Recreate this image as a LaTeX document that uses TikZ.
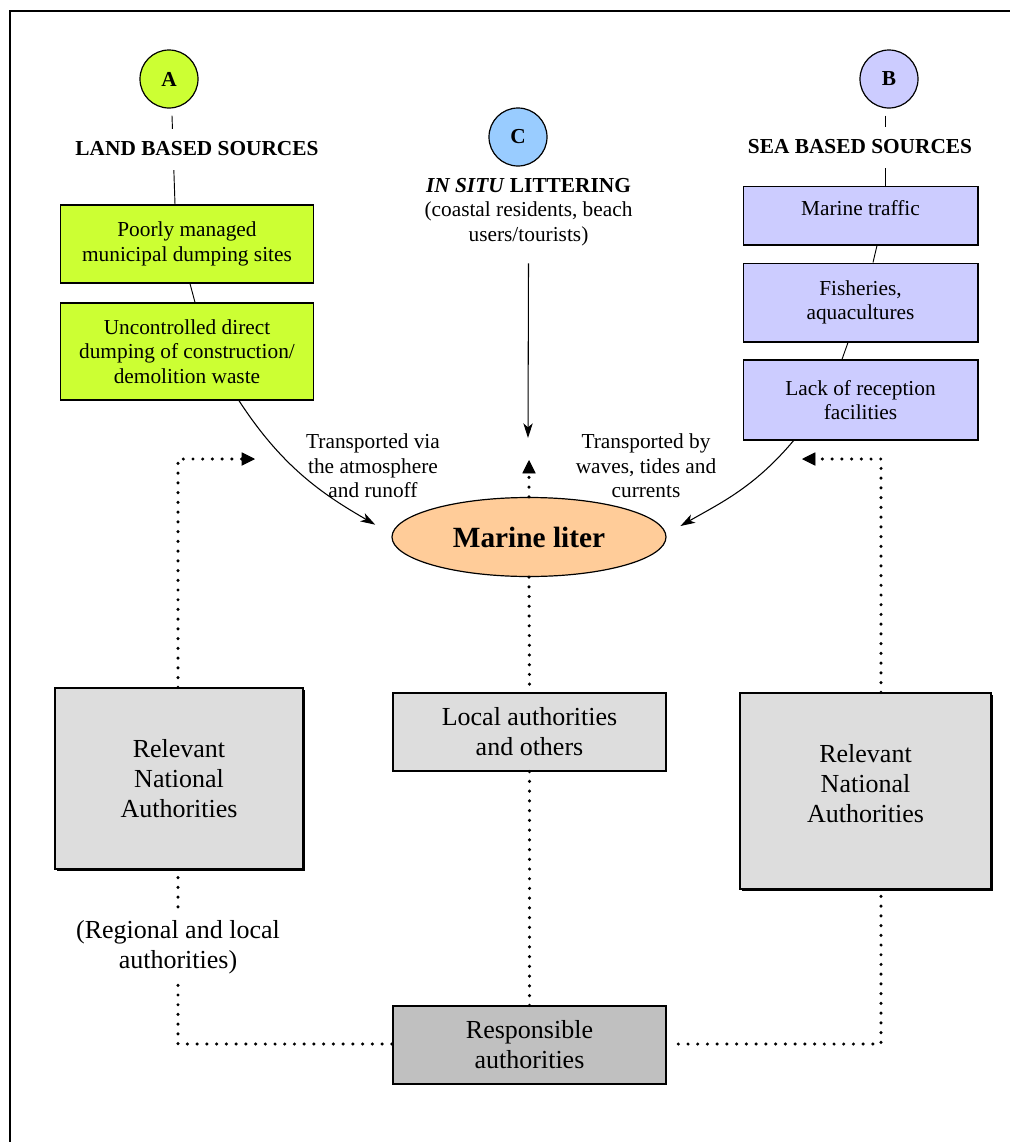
\documentclass[tikz,border=0pt]{standalone}
\usepackage{fontspec}
\setmainfont{Liberation Serif}
\usetikzlibrary{arrows.meta,calc,shapes.geometric,shadows}
\definecolor{lgreen}{RGB}{204,255,51}
\definecolor{lav}{RGB}{204,204,255}
\definecolor{lblue}{RGB}{153,204,255}
\definecolor{peach}{RGB}{255,204,153}
\definecolor{lgrey}{RGB}{221,221,221}
\definecolor{mgrey}{RGB}{192,192,192}
\begin{document}
\begin{tikzpicture}[x=0.75pt,y=-0.75pt,
  up/.style={font=\fontsize{16}{18.5}\selectfont, align=center},
  low/.style={font=\fontsize{19.5}{22.5}\selectfont, align=center},
  head/.style={font=\fontsize{16}{18.5}\selectfont\bfseries, align=center},
  letter/.style={circle, draw, line width=0.9pt, minimum size=43.5pt, inner sep=0pt, font=\fontsize{16}{18}\selectfont\bfseries},
  srcbox/.style={draw, line width=1pt, inner sep=0pt, up},
  authbox/.style={draw, line width=1pt, inner sep=0pt, low},
  nabox/.style={authbox, fill=lgrey, general shadow={fill=black, shadow xshift=1.2pt, shadow yshift=-1.5pt}},
  thin/.style={line width=0.7pt},
  sarrow/.style={line width=0.8pt, -{Stealth[length=11pt,width=7pt,inset=3pt]}},
  dots/.style={line width=2.6pt, line cap=round, dash pattern=on 0pt off 7.3pt},
  dotarr/.style={dots, -{Triangle[length=10pt,width=10pt,line width=0.5pt]}}
]
\useasboundingbox (0,0) rectangle (1010,1142);
% frame
\draw[line width=1.5pt] (10,1142) -- (10,11) -- (1010,11);

% --- A column
\node[letter, fill=lgreen] (A) at (169,79) {A};
\node[srcbox, fill=lgreen, minimum width=190pt, minimum height=58.5pt] (b1) at (187,244)
  {Poorly managed\\municipal dumping sites};
\node[srcbox, fill=lgreen, minimum width=190pt, minimum height=72.75pt] (b2) at (187,351.5)
  {Uncontrolled direct\\dumping of construction/\\demolition waste};
\draw[thin] ($(A.south)+(3,7)$) -- ($(b1.north)+(-12,0)$);
\node[head, fill=white, inner xsep=2pt, inner ysep=10pt] (land) at (197,149) {LAND BASED SOURCES};
\draw[thin] ($(b1.south)+(3,0)$) -- ($(b2.north)+(8,0)$);

% --- B column
\node[letter, fill=lav] (B) at (889,79) {B};
\node[srcbox, fill=lav, minimum width=176pt, minimum height=44pt] (mt) at (860.5,215.5) {};
\node[up] (mtt) at (860.5,208) {Marine traffic};
\node[srcbox, fill=lav, minimum width=176pt, minimum height=59pt] (fi) at (860.5,302.5)
  {Fisheries,\\aquacultures};
\node[srcbox, fill=lav, minimum width=176pt, minimum height=60pt] (la) at (860.5,400)
  {Lack of reception\\facilities};
\draw[thin] ($(B.south)+(-4,7)$) -- ($(mt.north)+(24.5,0)$);
\node[head, fill=white, inner xsep=2pt, inner ysep=10pt] (sea) at (860,147) {SEA BASED SOURCES};
\draw[thin] ($(mt.south)+(16.5,0)$) -- ($(fi.north)+(12.5,0)$);
\draw[thin] ($(fi.south)+(-12.5,0)$) -- ($(la.north)+(-18.5,0)$);

% --- C column
\node[letter, fill=lblue] (C) at (518,137) {C};
\node[up, inner sep=0pt] (insitu) at (528.5,212)
  {\textbf{\textit{IN SITU} LITTERING}\\(coastal residents, beach\\users/tourists)};
\coordinate (cend) at (528,438);
\draw[sarrow] ($(insitu.south)+(0,17)$) -- (cend);

% --- Marine liter
\node[ellipse, draw, line width=0.9pt, fill=peach, minimum width=205.5pt, minimum height=59.25pt,
  font=\fontsize{22}{24}\selectfont\bfseries] (ml) at (529,537) {Marine liter};

\node[up] (tvia) at (373,466) {Transported via\\the atmosphere\\and runoff};
\node[up] (tby) at (646,466) {Transported by\\waves, tides and\\currents};

\draw[sarrow, shorten >=14pt] ($(b2.south)+(52,0)$) to[out=-57,in=150] ($(ml.west)+(0,-3)$);
\draw[sarrow, shorten >=12pt] ($(la.south)+(-67,0)$) to[out=-130,in=30] ($(ml.east)+(0,-3)$);

% --- authorities
\node[nabox, minimum width=186pt, minimum height=135.75pt] (NAL) at (179,778.5)
  {Relevant\\National\\Authorities};
\node[authbox, fill=lgrey, minimum width=204.75pt, minimum height=58.5pt] (loc) at (529.5,732)
  {Local authorities\\and others};
\node[nabox, minimum width=188.25pt, minimum height=147pt] (NAR) at (865.5,791) {};
\node[low] (nart) at (865.5,784) {Relevant\\National\\Authorities};
\node[authbox, fill=mgrey, minimum width=204.75pt, minimum height=58.5pt] (resp) at (529.5,1045)
  {Responsible\\authorities};
\node[low, inner sep=0pt, minimum height=57pt] (reg) at (178,947)
  {(Regional and local\\authorities)};

% --- dotted connectors
\coordinate (cup) at (529,460);
\coordinate (lt) at (255,459);
\coordinate (rt) at (802,459);
\draw[dotarr] (ml.north) -- (cup);
\draw[dotarr] ($(NAL.north)+(-1,0)$) |- (lt);
\draw[dotarr] ($(NAR.north)+(15.5,0)$) |- (rt);
\draw[dots] (ml.south) -- (loc.north);
\draw[dots] (loc.south) -- (resp.north);
\draw[dots, shorten <=6pt] ($(NAL.south)+(-1,0)$) -- (reg.north);
\draw[dots] (reg.south) |- ($(resp.west)+(0,-1)$);
\draw[dots, shorten <=5pt, shorten >=6pt] ($(NAR.south)+(15.5,0)$) |- ($(resp.east)+(0,-1)$);
\end{tikzpicture}
\end{document}
